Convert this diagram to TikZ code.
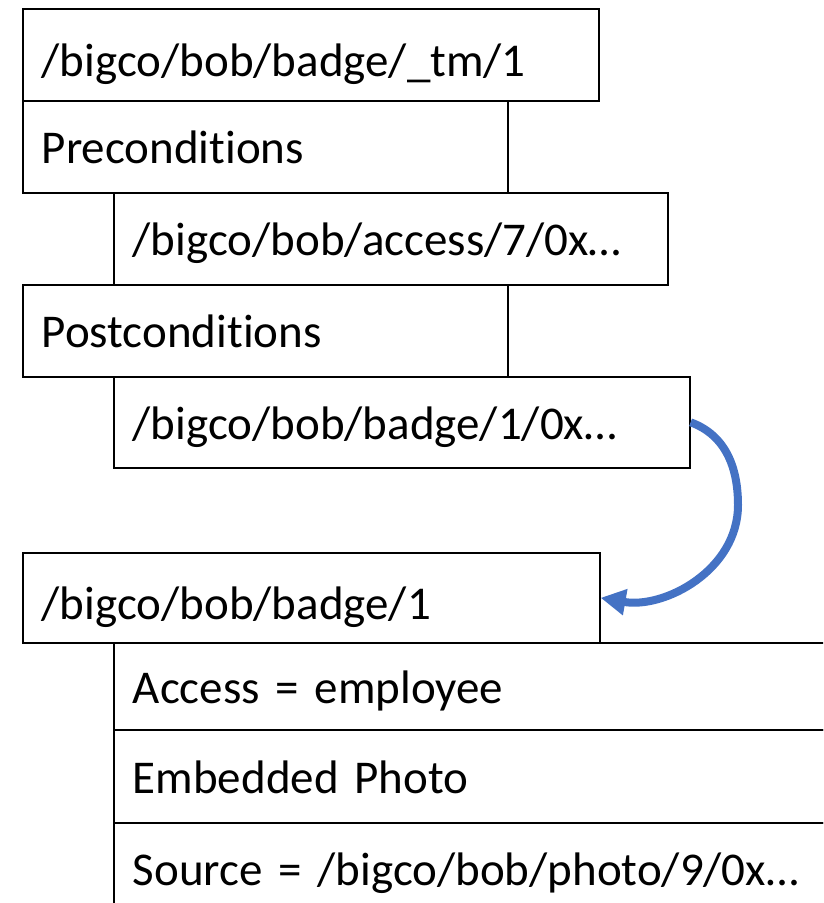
\documentclass[tikz,border=0pt]{standalone}
\usepackage{fontspec}
\setmainfont[RawFeature={-liga;-clig;-calt}]{Carlito}
\usetikzlibrary{arrows.meta}
\definecolor{arrowblue}{HTML}{4472C4}
\begin{document}
\begin{tikzpicture}[x=1pt,y=1pt,
  bx/.style={draw=black, line width=1.6pt, rectangle, anchor=north west,
    inner xsep=19pt, inner ysep=0pt, align=left,
    text height=40pt, text depth=6pt,
    font=\fontsize{47}{56}\selectfont},
  ttl/.style={text height=44pt, text depth=1pt},
  link/.style={draw=arrowblue, line width=8pt,
    -{Triangle[length=25pt,width=25pt]}}]
\useasboundingbox (0,0) rectangle (823,-903);
\clip (0,0) rectangle (823,-903);
\node[bx, ttl, minimum width=576pt, minimum height=92pt, text width=538pt] (b1) at (22,-8) {/bigco/bob/badge/\_tm/1};
\node[bx, minimum width=485pt, minimum height=92pt, text width=447pt] (b2) at (22,-100) {Preconditions};
\node[bx, minimum width=554pt, minimum height=92pt, text width=516pt] (b3) at (113,-192) {/bigco/bob/access/7/0x…};
\node[bx, minimum width=485pt, minimum height=92pt, text width=447pt] (b4) at (22,-284) {Postconditions};
\node[bx, minimum width=576pt, minimum height=91pt, text width=538pt] (b5) at (113,-376) {/bigco/bob/badge/1/0x…};
\node[bx, ttl, minimum width=577pt, minimum height=90pt, text width=539pt] (b6) at (22,-552) {/bigco/bob/badge/1};
\node[bx, minimum width=787pt, minimum height=87pt, text width=749pt] (b7) at (113,-642) {Access = employee};
\node[bx, minimum width=787pt, minimum height=93pt, text width=749pt] (b8) at (113,-729) {Embedded Photo};
\node[bx, minimum width=787pt, minimum height=92pt, text width=749pt] (b9) at (113,-822) {Source = /bigco/bob/photo/9/0x…};
\coordinate (mid) at (738,-505);
\draw[link] (b5.east) to[out=-20,in=90] (mid) to[out=-90,in=-10] (b6.east);
\end{tikzpicture}
\end{document}
